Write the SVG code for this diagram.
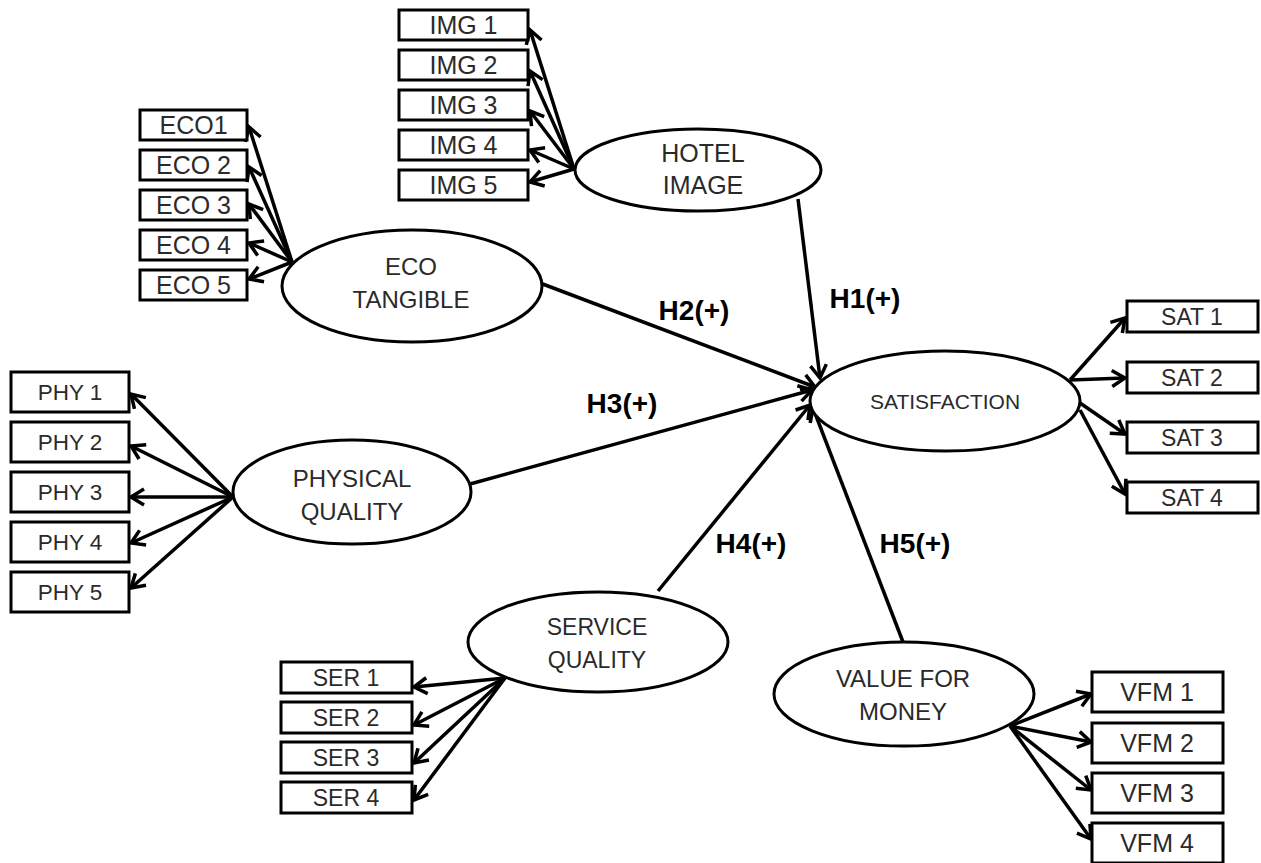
<svg xmlns="http://www.w3.org/2000/svg" width="1261" height="863" viewBox="0 0 1261 863">
  <defs>
    <marker id="arr" viewBox="-17 -11 20 22" refX="0" refY="0" markerWidth="20" markerHeight="22" markerUnits="userSpaceOnUse" orient="auto">
      <path d="M-13,-8 L0,0 L-13,8" fill="none" stroke="#000" stroke-width="3.5"/>
    </marker>
    <style>
      .box { fill: #fff; stroke: #000; stroke-width: 3; }
      .lv { fill: #fff; stroke: #000; stroke-width: 3; }
      .t { font-family: "Liberation Sans", Arial, sans-serif; fill: #2a2a2a; text-anchor: middle; }
      .h { font-family: "Liberation Sans", Arial, sans-serif; font-weight: bold; font-size: 28px; fill: #000; text-anchor: middle; }
      .c line { stroke: #000; stroke-width: 3.5; marker-end: url(#arr); }
    </style>
  </defs>
  <rect width="1261" height="863" fill="#fff"/>

  <!-- connectors -->
  <g id="connectors" class="c">
    <!-- hotel image indicators -->
    <line x1="574" y1="169" x2="530" y2="30"/>
    <line x1="574" y1="169" x2="530" y2="71"/>
    <line x1="574" y1="169" x2="530" y2="111"/>
    <line x1="574" y1="169" x2="530" y2="150"/>
    <line x1="574" y1="169" x2="530" y2="182"/>
    <!-- eco tangible indicators -->
    <line x1="292" y1="262" x2="249" y2="127"/>
    <line x1="292" y1="262" x2="249" y2="167"/>
    <line x1="292" y1="262" x2="249" y2="204"/>
    <line x1="292" y1="262" x2="249" y2="243"/>
    <line x1="292" y1="262" x2="249" y2="279"/>
    <!-- physical quality indicators -->
    <line x1="233" y1="497" x2="131" y2="394"/>
    <line x1="233" y1="497" x2="131" y2="446"/>
    <line x1="233" y1="497" x2="131" y2="497"/>
    <line x1="233" y1="497" x2="131" y2="543"/>
    <line x1="233" y1="497" x2="131" y2="588"/>
    <!-- service quality indicators -->
    <line x1="505" y1="678" x2="414" y2="687"/>
    <line x1="505" y1="678" x2="414" y2="725"/>
    <line x1="505" y1="678" x2="414" y2="763"/>
    <line x1="505" y1="678" x2="414" y2="800"/>
    <!-- value for money indicators -->
    <line x1="1010" y1="726" x2="1091" y2="694"/>
    <line x1="1010" y1="726" x2="1091" y2="742"/>
    <line x1="1010" y1="726" x2="1091" y2="790"/>
    <line x1="1010" y1="726" x2="1091" y2="839"/>
    <!-- satisfaction indicators -->
    <line x1="1070" y1="380" x2="1125" y2="318"/>
    <line x1="1070" y1="380" x2="1125" y2="378"/>
    <line x1="1080" y1="403" x2="1125" y2="434"/>
    <line x1="1080" y1="410" x2="1125" y2="494"/>
    <!-- structural paths -->
    <line x1="798" y1="199" x2="820" y2="378"/>
    <line x1="540" y1="283" x2="815" y2="387"/>
    <line x1="470" y1="484" x2="812" y2="390"/>
    <line x1="658" y1="591" x2="810" y2="405"/>
    <line x1="903" y1="642" x2="813" y2="408"/>
  </g>

  <!-- path labels -->
  <g id="path-labels">
    <text class="h" x="865" y="308">H1(+)</text>
    <text class="h" x="694" y="320">H2(+)</text>
    <text class="h" x="622" y="413">H3(+)</text>
    <text class="h" x="751" y="553">H4(+)</text>
    <text class="h" x="915" y="553">H5(+)</text>
  </g>

  <!-- latent variables -->
  <g id="hotel-image">
    <ellipse class="lv" cx="698" cy="170" rx="123" ry="41"/>
    <text class="t" x="703" y="162" font-size="25">HOTEL</text>
    <text class="t" x="703" y="194" font-size="25">IMAGE</text>
  </g>
  <g id="eco-tangible">
    <ellipse class="lv" cx="412" cy="286" rx="130" ry="56"/>
    <text class="t" x="411" y="275" font-size="24">ECO</text>
    <text class="t" x="411" y="308" font-size="24">TANGIBLE</text>
  </g>
  <g id="physical-quality">
    <ellipse class="lv" cx="352" cy="492" rx="119" ry="52"/>
    <text class="t" x="352" y="487" font-size="24">PHYSICAL</text>
    <text class="t" x="352" y="520" font-size="24">QUALITY</text>
  </g>
  <g id="service-quality">
    <ellipse class="lv" cx="598" cy="642" rx="130" ry="50"/>
    <text class="t" x="597" y="635" font-size="23">SERVICE</text>
    <text class="t" x="597" y="668" font-size="23">QUALITY</text>
  </g>
  <g id="value-for-money">
    <ellipse class="lv" cx="904" cy="694" rx="130" ry="52"/>
    <text class="t" x="903" y="687" font-size="24">VALUE FOR</text>
    <text class="t" x="903" y="720" font-size="24">MONEY</text>
  </g>
  <g id="satisfaction">
    <ellipse class="lv" cx="945" cy="401" rx="135" ry="50"/>
    <text class="t" x="945" y="409" font-size="21">SATISFACTION</text>
  </g>

  <!-- indicators: hotel image -->
  <g id="img1"><rect class="box" x="399" y="10" width="129" height="30"/><text class="t" x="463.5" y="34" font-size="25">IMG 1</text></g>
  <g id="img2"><rect class="box" x="399" y="50" width="129" height="30"/><text class="t" x="463.5" y="74" font-size="25">IMG 2</text></g>
  <g id="img3"><rect class="box" x="399" y="90" width="129" height="30"/><text class="t" x="463.5" y="114" font-size="25">IMG 3</text></g>
  <g id="img4"><rect class="box" x="399" y="130" width="129" height="30"/><text class="t" x="463.5" y="154" font-size="25">IMG 4</text></g>
  <g id="img5"><rect class="box" x="399" y="170" width="129" height="30"/><text class="t" x="463.5" y="194" font-size="25">IMG 5</text></g>

  <!-- indicators: eco tangible -->
  <g id="eco1"><rect class="box" x="140" y="110" width="107" height="30"/><text class="t" x="193.5" y="134" font-size="25">ECO1</text></g>
  <g id="eco2"><rect class="box" x="140" y="150" width="107" height="30"/><text class="t" x="193.5" y="174" font-size="25">ECO 2</text></g>
  <g id="eco3"><rect class="box" x="140" y="190" width="107" height="30"/><text class="t" x="193.5" y="214" font-size="25">ECO 3</text></g>
  <g id="eco4"><rect class="box" x="140" y="230" width="107" height="30"/><text class="t" x="193.5" y="254" font-size="25">ECO 4</text></g>
  <g id="eco5"><rect class="box" x="140" y="270" width="107" height="30"/><text class="t" x="193.5" y="294" font-size="25">ECO 5</text></g>

  <!-- indicators: physical quality -->
  <g id="phy1"><rect class="box" x="11" y="372" width="118" height="40"/><text class="t" x="70" y="400" font-size="22.5">PHY 1</text></g>
  <g id="phy2"><rect class="box" x="11" y="422" width="118" height="40"/><text class="t" x="70" y="450" font-size="22.5">PHY 2</text></g>
  <g id="phy3"><rect class="box" x="11" y="472" width="118" height="40"/><text class="t" x="70" y="500" font-size="22.5">PHY 3</text></g>
  <g id="phy4"><rect class="box" x="11" y="522" width="118" height="40"/><text class="t" x="70" y="550" font-size="22.5">PHY 4</text></g>
  <g id="phy5"><rect class="box" x="11" y="572" width="118" height="40"/><text class="t" x="70" y="600" font-size="22.5">PHY 5</text></g>

  <!-- indicators: service quality -->
  <g id="ser1"><rect class="box" x="281" y="662" width="131" height="31"/><text class="t" x="346" y="686" font-size="23">SER 1</text></g>
  <g id="ser2"><rect class="box" x="281" y="702" width="131" height="31"/><text class="t" x="346" y="726" font-size="23">SER 2</text></g>
  <g id="ser3"><rect class="box" x="281" y="742" width="131" height="31"/><text class="t" x="346" y="766" font-size="23">SER 3</text></g>
  <g id="ser4"><rect class="box" x="281" y="782" width="131" height="31"/><text class="t" x="346" y="806" font-size="23">SER 4</text></g>

  <!-- indicators: value for money -->
  <g id="vfm1"><rect class="box" x="1092" y="672" width="131" height="40"/><text class="t" x="1157" y="701" font-size="25">VFM 1</text></g>
  <g id="vfm2"><rect class="box" x="1092" y="723" width="131" height="40"/><text class="t" x="1157" y="752" font-size="25">VFM 2</text></g>
  <g id="vfm3"><rect class="box" x="1092" y="773" width="131" height="40"/><text class="t" x="1157" y="802" font-size="25">VFM 3</text></g>
  <g id="vfm4"><rect class="box" x="1092" y="823" width="131" height="40"/><text class="t" x="1157" y="852" font-size="25">VFM 4</text></g>

  <!-- indicators: satisfaction -->
  <g id="sat1"><rect class="box" x="1127" y="301" width="131" height="31"/><text class="t" x="1192" y="325" font-size="23">SAT 1</text></g>
  <g id="sat2"><rect class="box" x="1127" y="362" width="131" height="31"/><text class="t" x="1192" y="386" font-size="23">SAT 2</text></g>
  <g id="sat3"><rect class="box" x="1127" y="422" width="131" height="31"/><text class="t" x="1192" y="446" font-size="23">SAT 3</text></g>
  <g id="sat4"><rect class="box" x="1127" y="482" width="131" height="31"/><text class="t" x="1192" y="506" font-size="23">SAT 4</text></g>
</svg>
